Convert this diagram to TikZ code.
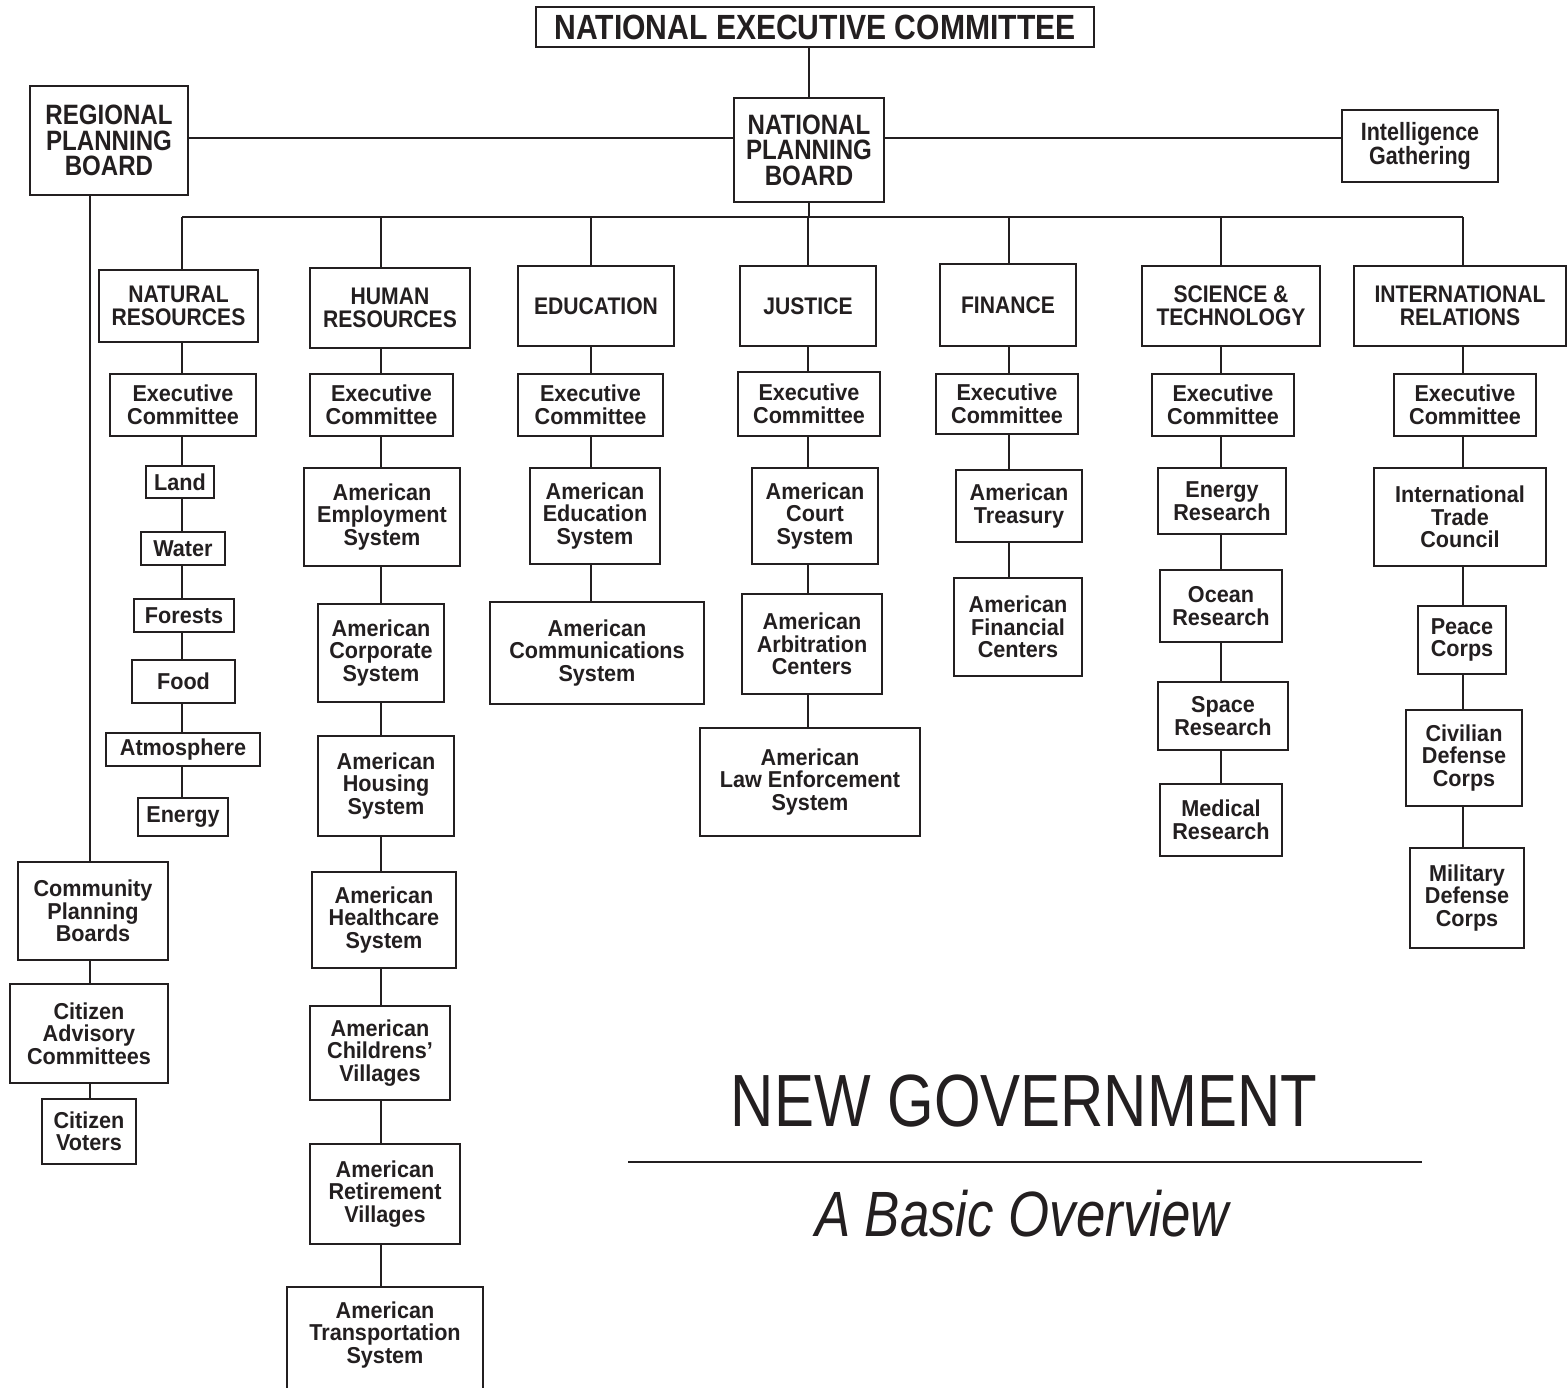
\documentclass[tikz,border=0pt]{standalone}
\usepackage{fontspec}
\setmainfont{Liberation Sans}
\newfontfamily\boxfont{Liberation Sans Bold}[FakeStretch=0.94]
\newfontfamily\headfont{Liberation Sans Bold}[FakeStretch=0.88]
\newfontfamily\bigfont{Liberation Sans Bold}[FakeStretch=0.86]
\newfontfamily\titlefont{Liberation Sans}[FakeStretch=0.81]
\newfontfamily\subfont{Liberation Sans Italic}[FakeStretch=0.825]
\definecolor{ink}{HTML}{231F20}
\newcommand\mkbox[6]{\node[#1,minimum width=#4,minimum height=#5] (#2) at (#3) {#6};}
\tikzset{
  box/.style={draw=ink, text=ink, line width=2pt, inner sep=0pt, align=center,
    font=\boxfont\fontsize{23}{22.5}\selectfont},
  head/.style={box, font=\headfont\fontsize{24}{23}\selectfont},
  big/.style={box, font=\bigfont\fontsize{28}{25.5}\selectfont},
  intel/.style={box, font=\bigfont\fontsize{25}{24}\selectfont},
  nec/.style={box, font=\bigfont\fontsize{35}{35}\selectfont},
  conn/.style={draw=ink, line width=2pt},
}
\begin{document}
\begin{tikzpicture}[x=1pt,y=-1pt]
\useasboundingbox (0,0) rectangle (1567,1388);
\fill[white] (0,0) rectangle (1567,1388);
% top level
\mkbox{nec}{NEC}{815,27}{558}{40}{NATIONAL EXECUTIVE COMMITTEE}
\mkbox{big}{NPB}{809,150}{150}{104}{NATIONAL\\PLANNING\\BOARD}
\mkbox{big}{RPB}{109,140.5}{158}{109}{REGIONAL\\PLANNING\\BOARD}
\mkbox{intel}{Intel}{1420,146}{156}{72}{Intelligence\\Gathering}
% regional chain
\mkbox{box}{CPB}{93,911}{150}{98}{Community\\Planning\\Boards}
\mkbox{box}{CAC}{89,1033.5}{158}{99}{Citizen\\Advisory\\Committees}
\mkbox{box}{CV}{89,1131.5}{94}{65}{Citizen\\Voters}
% departments
\mkbox{head}{NR}{178.5,306}{159}{72}{NATURAL\\RESOURCES}
\mkbox{head}{HR}{390,308}{160}{80}{HUMAN\\RESOURCES}
\mkbox{head}{EDU}{596,306}{156}{80}{EDUCATION}
\mkbox{head}{JUS}{808,306}{136}{80}{JUSTICE}
\mkbox{head}{FIN}{1008,305}{136}{82}{FINANCE}
\mkbox{head}{SCI}{1231,306}{178}{80}{SCIENCE \&\\TECHNOLOGY}
\mkbox{head}{INT}{1460,306}{212}{80}{INTERNATIONAL\\RELATIONS}
% natural resources
\mkbox{box}{NRe}{183,405}{146}{62}{Executive\\Committee}
\mkbox{box}{Land}{180,482}{68}{32}{Land}
\mkbox{box}{Water}{183,548.5}{84}{33}{Water}
\mkbox{box}{Forests}{184,615.5}{100}{33}{Forests}
\mkbox{box}{Food}{183.5,681.5}{103}{43}{Food}
\mkbox{box}{Atmos}{183,749.5}{154}{33}{Atmosphere}
\mkbox{box}{Energy}{183,817}{90}{38}{Energy}
% human resources
\mkbox{box}{HRe}{381.5,405}{143}{62}{Executive\\Committee}
\mkbox{box}{Emp}{382,517}{156}{98}{American\\Employment\\System}
\mkbox{box}{Corp}{381,653}{126}{98}{American\\Corporate\\System}
\mkbox{box}{Hous}{386,786}{136}{100}{American\\Housing\\System}
\mkbox{box}{Health}{384,920}{144}{96}{American\\Healthcare\\System}
\mkbox{box}{Child}{380,1053}{140}{94}{American\\Childrens’\\Villages}
\mkbox{box}{Retire}{385,1194}{150}{100}{American\\Retirement\\Villages}
\node[box,draw=none,minimum width=194,minimum height=94] (Transp) at (385,1335) {American\\Transportation\\System};
% education
\mkbox{box}{EDUe}{590.5,405}{145}{62}{Executive\\Committee}
\mkbox{box}{AEdu}{595,516}{130}{96}{American\\Education\\System}
\mkbox{box}{AComm}{597,653}{214}{102}{American\\Communications\\System}
% justice
\mkbox{box}{JUSe}{809,404}{142}{64}{Executive\\Committee}
\mkbox{box}{Court}{815,516}{126}{96}{American\\Court\\System}
\mkbox{box}{Arb}{812,644}{140}{100}{American\\Arbitration\\Centers}
\mkbox{box}{Law}{810,782}{220}{108}{American\\Law Enforcement\\System}
% finance
\mkbox{box}{FINe}{1007,404}{142}{60}{Executive\\Committee}
\mkbox{box}{Treas}{1019,506}{126}{72}{American\\Treasury}
\mkbox{box}{FinC}{1018,627}{128}{98}{American\\Financial\\Centers}
% science
\mkbox{box}{SCIe}{1223,405}{142}{62}{Executive\\Committee}
\mkbox{box}{EnR}{1222,501}{128}{66}{Energy\\Research}
\mkbox{box}{OcR}{1221,606}{122}{72}{Ocean\\Research}
\mkbox{box}{SpR}{1223,716}{130}{68}{Space\\Research}
\mkbox{box}{MedR}{1221,820}{122}{72}{Medical\\Research}
% international
\mkbox{box}{INTe}{1465,405}{142}{62}{Executive\\Committee}
\mkbox{box}{ITC}{1460,517}{172}{98}{International\\Trade\\Council}
\mkbox{box}{Peace}{1462,640}{88}{68}{Peace\\Corps}
\mkbox{box}{Civ}{1464,758}{116}{96}{Civilian\\Defense\\Corps}
\mkbox{box}{Mil}{1467,898}{114}{100}{Military\\Defense\\Corps}
% connectors top
\draw[conn] (NPB.north) -- (NPB.north |- NEC.south);
\coordinate (hy) at (0,138);
\draw[conn] (RPB.east |- hy) -- (NPB.west |- hy);
\draw[conn] (NPB.east |- hy) -- (Intel.west |- hy);
\coordinate (busL) at (182,217);
\coordinate (busR) at (1463,217);
\draw[conn] (busL) -- (busR);
\draw[conn] (NPB.south) -- (NPB.south |- busL);
% columns
\coordinate (cNR) at (182,217);
\coordinate (cHR) at (381,217);
\coordinate (cEDU) at (591,217);
\coordinate (cJUS) at (808,217);
\coordinate (cFIN) at (1009,217);
\coordinate (cSCI) at (1221,217);
\coordinate (cINT) at (1463,217);
\coordinate (cL) at (90,0);
\foreach \d in {NR,HR,EDU,JUS,FIN,SCI,INT}
  \draw[conn] (\d.north -| c\d) -- (c\d);
\foreach \a/\b in {NR/NRe,NRe/Land,Land/Water,Water/Forests,Forests/Food,Food/Atmos,Atmos/Energy}
  \draw[conn] (\a.south -| cNR) -- (\b.north -| cNR);
\foreach \a/\b in {HR/HRe,HRe/Emp,Emp/Corp,Corp/Hous,Hous/Health,Health/Child,Child/Retire,Retire/Transp}
  \draw[conn] (\a.south -| cHR) -- (\b.north -| cHR);
\foreach \a/\b in {EDU/EDUe,EDUe/AEdu,AEdu/AComm}
  \draw[conn] (\a.south -| cEDU) -- (\b.north -| cEDU);
\foreach \a/\b in {JUS/JUSe,JUSe/Court,Court/Arb,Arb/Law}
  \draw[conn] (\a.south -| cJUS) -- (\b.north -| cJUS);
\foreach \a/\b in {FIN/FINe,FINe/Treas,Treas/FinC}
  \draw[conn] (\a.south -| cFIN) -- (\b.north -| cFIN);
\foreach \a/\b in {SCI/SCIe,SCIe/EnR,EnR/OcR,OcR/SpR,SpR/MedR}
  \draw[conn] (\a.south -| cSCI) -- (\b.north -| cSCI);
\foreach \a/\b in {INT/INTe,INTe/ITC,ITC/Peace,Peace/Civ,Civ/Mil}
  \draw[conn] (\a.south -| cINT) -- (\b.north -| cINT);
\foreach \a/\b in {RPB/CPB,CPB/CAC,CAC/CV}
  \draw[conn] (\a.south -| cL) -- (\b.north -| cL);
% open-bottom transportation box
\coordinate (pgbot) at (0,1400);
\draw[conn] (Transp.west |- pgbot) -- (Transp.north west) -- (Transp.north east) -- (Transp.east |- pgbot);
% title
\node[inner sep=0pt, text=ink, font=\titlefont\fontsize{74}{74}\selectfont] (title) at (1024,1101.5) {NEW GOVERNMENT};
\coordinate (rl) at (628,1162);
\coordinate (rr) at (1422,1162);
\draw[conn] (rl) -- (rr);
\node[inner sep=0pt, text=ink, font=\subfont\fontsize{64}{64}\selectfont] (sub) at (1022,1213.5) {A Basic Overview};
\end{tikzpicture}
\end{document}
